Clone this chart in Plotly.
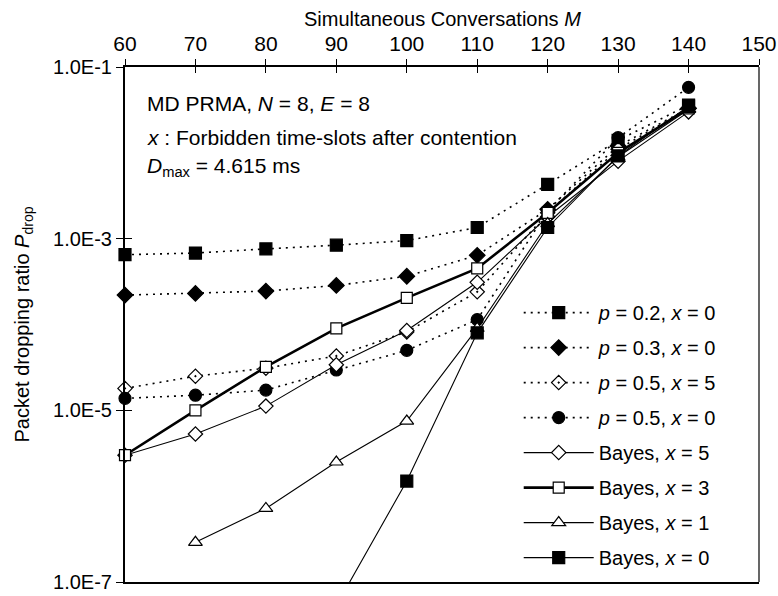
import plotly.graph_objects as go

# Simultaneous conversations M (x axis)
M = [60, 70, 80, 90, 100, 110, 120, 130, 140]
M_bayes1 = [70, 80, 90, 100, 110, 120, 130, 140]
M_bayes0 = [90, 100, 110, 120, 130, 140]

# Packet dropping ratio for each scheme
p02_x0 = [6.5e-4, 6.8e-4, 7.6e-4, 8.4e-4, 9.5e-4, 1.35e-3, 4.3e-3, 1.4e-2, 3.6e-2]
p03_x0 = [2.2e-4, 2.3e-4, 2.45e-4, 2.85e-4, 3.65e-4, 6.4e-4, 2.2e-3, 1.2e-2, 3.3e-2]
p05_x5 = [1.8e-5, 2.5e-5, 3.1e-5, 4.3e-5, 8.2e-5, 2.4e-4, 2.0e-3, 1.1e-2, 3.3e-2]
p05_x0 = [1.38e-5, 1.5e-5, 1.72e-5, 2.95e-5, 5.0e-5, 1.14e-4, 2.1e-3, 1.5e-2, 5.8e-2]
bayes_x5 = [3.0e-6, 5.3e-6, 1.12e-5, 3.4e-5, 8.5e-5, 3.1e-4, 1.8e-3, 8.0e-3, 3.0e-2]
bayes_x3 = [3.0e-6, 1.0e-5, 3.2e-5, 9.0e-5, 2.04e-4, 4.5e-4, 2.0e-3, 1.0e-2, 3.3e-2]
bayes_x1 = [2.9e-7, 7.2e-7, 2.5e-6, 7.5e-6, 9.0e-5, 1.5e-3, 9.0e-3, 3.2e-2]
bayes_x0 = [5.3e-8, 1.5e-6, 8.0e-5, 1.35e-3, 9.2e-3, 3.5e-2]

x_ticks = [60, 70, 80, 90, 100, 110, 120, 130, 140, 150]
y_ticks = [1e-7, 1e-5, 1e-3, 1e-1]
y_ticktext = ["1.0E-7", "1.0E-5", "1.0E-3", "1.0E-1"]

FONT = "Liberation Sans, Arial, sans-serif"
DOT = "2px,5px"

series = [
    ("<i>p</i> = 0.2, <i>x</i> = 0", M, p02_x0, "square", 12, "black", DOT, 1.6, False),
    ("<i>p</i> = 0.3, <i>x</i> = 0", M, p03_x0, "diamond", 12, "black", DOT, 1.6, False),
    ("<i>p</i> = 0.5, <i>x</i> = 5", M, p05_x5, "diamond-dot", 11, "white", DOT, 1.6, False),
    ("<i>p</i> = 0.5, <i>x</i> = 0", M, p05_x0, "circle", 12, "black", DOT, 1.6, False),
    ("Bayes, <i>x</i> = 5", M, bayes_x5, "diamond", 11, "white", "solid", 1.1, False),
    ("Bayes, <i>x</i> = 3", M, bayes_x3, "square", 11, "white", "solid", 2.6, False),
    ("Bayes, <i>x</i> = 1", M_bayes1, bayes_x1, "triangle-up", 12, "white", "solid", 1.1, False),
    ("Bayes, <i>x</i> = 0", M_bayes0, bayes_x0, "square", 12, "black", "solid", 1.1, True),
]

fig = go.Figure()
for i, (name, xs, ys, sym, size, fill, dash, lw, clip) in enumerate(series):
    fig.add_trace(go.Scatter(
        x=xs, y=ys, name=name, mode="lines+markers",
        line=dict(color="black", width=lw, dash=dash),
        marker=dict(symbol=sym, size=size, color=fill,
                    line=dict(color="black", width=1.2)),
        cliponaxis=clip, legendgroup=f"g{i}",
    ))

# companion axes carrying the inner half of the crossing ticks
fig.add_trace(go.Scatter(x=[None], y=[None], xaxis="x2", yaxis="y2",
                         showlegend=False, hoverinfo="skip"))

fig.update_layout(
    width=778, height=596,
    margin=dict(l=125, r=19, t=67, b=14, autoexpand=False),
    paper_bgcolor="white", plot_bgcolor="white",
    font=dict(family=FONT, size=20, color="black"),
    showlegend=True,
    legend=dict(x=0.621, y=0.561, xanchor="left", yanchor="top",
                bgcolor="rgba(0,0,0,0)", font=dict(size=20),
                itemwidth=70, tracegroupgap=6, traceorder="grouped"),
    xaxis=dict(
        side="top", range=[60, 150], tickvals=x_ticks, automargin=False,
        ticks="outside", ticklen=6, tickwidth=1.2, tickcolor="black",
        showline=True, linewidth=2, linecolor="black", mirror=True,
        showgrid=False, zeroline=False, tickfont=dict(size=21),
    ),
    xaxis2=dict(
        overlaying="x", side="top", range=[60, 150], tickvals=x_ticks,
        ticks="inside", ticklen=6, tickwidth=1.2, tickcolor="black",
        showticklabels=False, showline=False, showgrid=False, zeroline=False,
    ),
    yaxis=dict(
        type="log", range=[-7, -1], tickvals=y_ticks, ticktext=y_ticktext,
        automargin=False,
        ticks="outside", ticklen=7, tickwidth=1.2, tickcolor="black",
        showline=True, linewidth=2, linecolor="black",
        showgrid=False, zeroline=False, tickfont=dict(size=20),
        title=dict(text="Packet dropping ratio <i>P</i><sub>drop</sub>",
                   font=dict(size=20), standoff=18),
    ),
    yaxis2=dict(
        overlaying="y", side="left", type="log", range=[-7, -1],
        tickvals=y_ticks, ticks="inside", ticklen=7, tickwidth=1.2,
        tickcolor="black", showticklabels=False, showline=False,
        showgrid=False, zeroline=False,
    ),
    shapes=[dict(type="line", xref="paper", yref="paper", x0=1, x1=1,
                 y0=0, y1=1, line=dict(color="black", width=1.2))],
)

# title of the top (x) axis
fig.add_annotation(text="Simultaneous Conversations <i>M</i>", xref="paper",
                   yref="paper", x=0.5, y=1, xanchor="center",
                   yanchor="middle", yshift=48, showarrow=False,
                   font=dict(size=20, family=FONT))

notes = [
    ("MD PRMA, <i>N</i> = 8, <i>E</i> = 8", 0.930),
    ("<i>x</i> : Forbidden time-slots after contention", 0.863),
    ("<i>D</i><sub>max</sub> = 4.615 ms", 0.805),
]
for text, y in notes:
    fig.add_annotation(text=text, xref="paper", yref="paper", x=0.032, y=y,
                       xanchor="left", yanchor="middle", showarrow=False,
                       font=dict(size=21, family=FONT))

fig.write_html("out.html")
